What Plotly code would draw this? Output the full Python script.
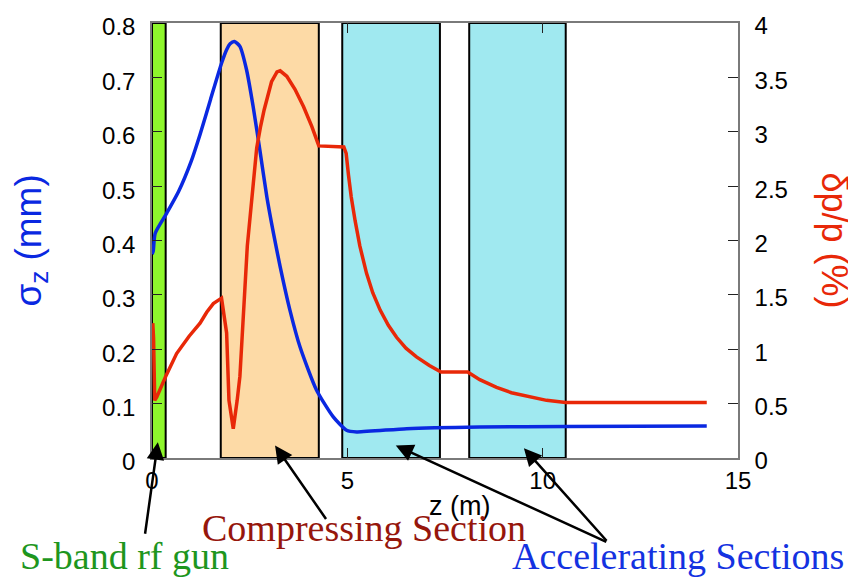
import plotly.graph_objects as go

# Bunch length along the beamline (left axis, mm)
z_sigma = [0.0, 0.03, 0.08, 0.375, 0.68, 1.0, 1.23, 1.5, 1.78, 1.91,
           2.0, 2.11, 2.25, 2.42, 2.59, 2.76, 2.94, 3.11, 3.28, 3.53, 3.79, 4.21,
           4.64, 4.98, 5.24, 6.52, 8.39, 10.6, 14.2]
sigma_z = [0.375, 0.38, 0.413, 0.45, 0.49, 0.545, 0.595, 0.66, 0.726, 0.751,
           0.762, 0.766, 0.757, 0.714, 0.646, 0.567, 0.48, 0.413, 0.352, 0.272, 0.204, 0.125,
           0.0755, 0.051, 0.048, 0.054, 0.057, 0.058, 0.059]

# Relative energy spread (right axis, %)
z_dp = [0.02, 0.04, 0.07, 0.12, 0.35, 0.63, 0.95, 1.23, 1.4, 1.57, 1.78, 1.91, 1.97, 2.08,
        2.18, 2.25, 2.44, 2.56, 2.68, 2.78, 2.87, 3.06, 3.2, 3.28, 3.45, 3.66, 3.88, 4.09,
        4.27, 4.91, 4.97, 5.03, 5.10, 5.2, 5.32, 5.49, 5.65, 5.84, 6.05, 6.26, 6.5, 6.77,
        7.1, 7.40, 8.08, 8.39, 8.82, 9.2, 9.67, 10.1, 10.59, 14.2]
dp_p = [1.24, 1.10, 0.53, 0.56, 0.75, 0.96, 1.12, 1.24, 1.34, 1.42, 1.47, 1.15, 0.53, 0.27,
        0.53, 0.75, 1.95, 2.40, 2.85, 3.05, 3.20, 3.46, 3.55, 3.56, 3.51, 3.39, 3.23, 3.05,
        2.87, 2.86, 2.80, 2.60, 2.40, 2.18, 1.95, 1.70, 1.52, 1.36, 1.22, 1.11, 1.01, 0.93,
        0.85, 0.79, 0.79, 0.72, 0.65, 0.60, 0.56, 0.53, 0.51, 0.51]

# Beamline sections (start, end in metres)
section_kind = ["gun", "compress", "accel", "accel"]
section_start = [0.0, 1.76, 4.87, 8.12]
section_end = [0.35, 4.27, 7.37, 10.59]
section_fill = {"gun": "rgb(142,246,44)", "compress": "rgb(253,218,166)", "accel": "rgb(160,233,240)"}

# Axis ranges
z_range = [0, 15]
sigma_range = [0, 0.8]
dp_range = [0, 4]

BLUE = "rgb(10,40,225)"
RED = "rgb(232,40,8)"
SANS = "Liberation Sans, Arial, sans-serif"
SERIF = "Liberation Serif, Times New Roman, serif"
TICK_FONT = dict(family=SANS, size=24, color="black")

fig = go.Figure()

fig.add_trace(go.Scatter(x=z_sigma, y=sigma_z, mode="lines", yaxis="y",
                         line=dict(color=BLUE, width=3.5, shape="spline", smoothing=0.6),
                         showlegend=False, hoverinfo="skip"))
fig.add_trace(go.Scatter(x=z_dp, y=dp_p, mode="lines", yaxis="y2",
                         line=dict(color=RED, width=3.5),
                         showlegend=False, hoverinfo="skip"))

for kind, x0, x1 in zip(section_kind, section_start, section_end):
    fig.add_shape(type="rect", xref="x", yref="paper", x0=x0, x1=x1, y0=0, y1=1,
                  fillcolor=section_fill[kind], line=dict(color="black", width=2),
                  layer="below")

axis_common = dict(showgrid=False, zeroline=False, ticks="inside", ticklen=10,
                   tickwidth=1.2, tickcolor="#222", showline=True, linecolor="#7a7a7a",
                   linewidth=1.5, tickfont=TICK_FONT)

fig.update_layout(
    width=848, height=581,
    margin=dict(l=152, r=110, t=23, b=123),
    plot_bgcolor="white", paper_bgcolor="white",
    xaxis=dict(range=z_range, dtick=5, mirror="ticks", **axis_common),
    yaxis=dict(range=sigma_range, dtick=0.1, ticklabelstandoff=10, ticklabelshift=4,
               **axis_common),
    yaxis2=dict(range=dp_range, dtick=0.5, overlaying="y", side="right",
                ticklabelstandoff=10, ticklabelshift=3, **axis_common),
)

annotations = [
    # axis titles
    dict(text="σ<sub>z</sub> (mm)", xref="paper", yref="paper", x=-0.208, y=0.50,
         xanchor="center", yanchor="middle", textangle=-90, showarrow=False,
         font=dict(family=SANS, size=37, color=BLUE)),
    dict(text="δp/p (%)", xref="paper", yref="paper", x=1.1655, y=0.50,
         xanchor="center", yanchor="middle", textangle=90, showarrow=False,
         font=dict(family=SANS, size=36, color=RED)),
    dict(text="z (m)", xref="paper", yref="paper", x=0.524, y=-0.111,
         xanchor="center", yanchor="middle", showarrow=False,
         font=dict(family=SANS, size=27, color="black")),
    # section labels
    dict(text="S-band rf gun", xref="paper", yref="paper", x=-0.047, y=-0.225,
         xanchor="center", yanchor="middle", showarrow=False,
         font=dict(family=SERIF, size=38, color="rgb(30,150,30)")),
    dict(text="Compressing Section", xref="paper", yref="paper", x=0.361, y=-0.16,
         xanchor="center", yanchor="middle", showarrow=False,
         font=dict(family=SERIF, size=38, color="rgb(150,22,12)")),
    dict(text="Accelerating Sections", xref="paper", yref="paper", x=0.897, y=-0.225,
         xanchor="center", yanchor="middle", showarrow=False,
         font=dict(family=SERIF, size=38, color="rgb(20,50,225)")),
]

# pointer arrows: tip in data coordinates, tail offset in pixels
arrows = [
    (0.15, 0.029, -13, 93),
    (3.15, 0.023, 52, 75),
    (6.24, 0.023, 212, 97),
    (9.52, 0.018, 84, 94),
]
for x, y, ax, ay in arrows:
    annotations.append(dict(text="", x=x, y=y, xref="x", yref="y", ax=ax, ay=ay,
                            showarrow=True, arrowhead=2, arrowsize=1.4, arrowwidth=2.5,
                            arrowcolor="black", standoff=0, startstandoff=0))

fig.update_layout(annotations=annotations)

fig.write_html("out.html")
